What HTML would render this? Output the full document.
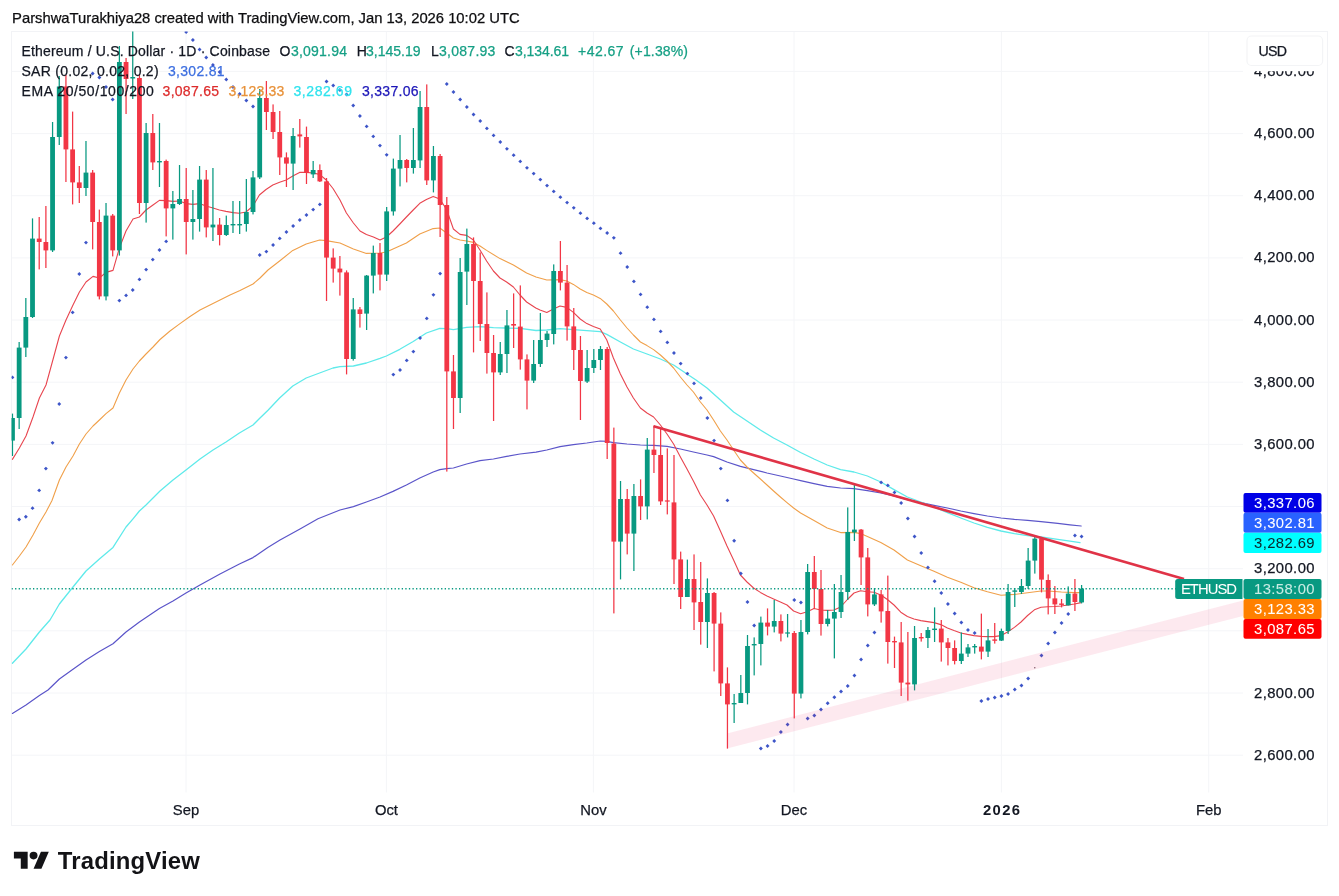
<!DOCTYPE html><html><head><meta charset="utf-8"><title>ETHUSD chart</title>
<style>html,body{margin:0;padding:0;background:#fff;}body{width:1339px;height:896px;overflow:hidden;position:relative;font-family:"Liberation Sans",sans-serif;}svg{position:absolute;left:0;top:0;display:block}text{font-family:"Liberation Sans",sans-serif;}</style></head><body>
<svg width="1339" height="896" viewBox="0 0 1339 896">
<rect width="1339" height="896" fill="#fff"/>
<clipPath id="pane"><rect x="11.5" y="31.5" width="1231.5" height="761.0"/></clipPath>
<g stroke="#f4f5f8" stroke-width="1" fill="none">
<line x1="11.5" y1="71.4" x2="1243" y2="71.4"/>
<line x1="11.5" y1="133.6" x2="1243" y2="133.6"/>
<line x1="11.5" y1="195.7" x2="1243" y2="195.7"/>
<line x1="11.5" y1="257.9" x2="1243" y2="257.9"/>
<line x1="11.5" y1="320.0" x2="1243" y2="320.0"/>
<line x1="11.5" y1="382.2" x2="1243" y2="382.2"/>
<line x1="11.5" y1="444.4" x2="1243" y2="444.4"/>
<line x1="11.5" y1="506.5" x2="1243" y2="506.5"/>
<line x1="11.5" y1="568.7" x2="1243" y2="568.7"/>
<line x1="11.5" y1="630.8" x2="1243" y2="630.8"/>
<line x1="11.5" y1="693.0" x2="1243" y2="693.0"/>
<line x1="11.5" y1="755.2" x2="1243" y2="755.2"/>
<line x1="186" y1="31.5" x2="186" y2="792.5"/>
<line x1="386.4" y1="31.5" x2="386.4" y2="792.5"/>
<line x1="593.4" y1="31.5" x2="593.4" y2="792.5"/>
<line x1="794" y1="31.5" x2="794" y2="792.5"/>
<line x1="1001.4" y1="31.5" x2="1001.4" y2="792.5"/>
<line x1="1208.7" y1="31.5" x2="1208.7" y2="792.5"/>
</g>
<rect x="11.5" y="31.5" width="1316.0" height="794.0" fill="none" stroke="#f2f3f6" stroke-width="1"/>
<g clip-path="url(#pane)">
<polyline points="12.4,713.4 26.0,705.0 39.4,695.6 48.0,690.0 59.4,679.0 73.0,669.2 86.0,660.0 99.4,651.6 113.0,643.8 126.0,632.0 139.4,622.0 159.4,608.6 173.0,601.0 186.0,593.0 200.0,585.0 220.0,574.0 239.4,564.0 253.0,557.6 267.8,547.4 280.0,540.0 300.0,529.0 318.0,518.8 340.0,510.0 353.4,506.6 366.4,502.0 380.0,497.0 393.0,491.4 406.4,485.0 419.8,478.0 433.2,472.0 439.8,469.6 446.6,468.6 453.4,468.0 466.6,464.0 480.0,460.6 493.4,459.0 506.6,456.4 520.0,454.0 536.0,452.2 546.8,450.0 560.0,446.6 573.4,444.6 586.8,443.0 600.2,441.0 606.8,441.4 613.4,442.6 627.0,444.0 640.4,445.0 653.6,445.4 667.0,446.4 680.4,449.0 693.4,452.0 707.0,455.0 713.6,456.6 727.0,462.0 740.4,466.4 753.6,469.6 767.0,473.0 780.4,476.0 793.6,479.0 800.6,480.6 814.0,483.6 827.2,486.4 840.6,488.0 854.0,488.6 867.4,490.6 880.8,493.0 894.0,496.0 907.4,499.6 920.8,502.6 934.0,505.4 947.4,508.0 960.8,511.0 974.0,513.6 987.4,516.0 1001.0,518.0 1014.4,519.4 1027.6,520.4 1041.0,521.6 1057.8,523.4 1070.0,524.8 1081.2,526.0" fill="none" stroke="#5b55c9" stroke-width="1.2" stroke-linejoin="round" stroke-linecap="round" opacity="1"/>
<polyline points="12.4,663.2 26.0,649.0 39.4,632.0 50.0,620.0 59.4,604.0 73.0,587.0 86.0,571.0 99.4,559.0 113.0,547.4 126.0,527.0 133.0,518.8 139.4,511.0 146.0,505.0 153.0,498.0 160.0,491.0 173.0,480.0 186.0,470.0 200.0,459.0 213.0,450.0 226.0,442.0 239.4,433.0 253.0,425.0 260.0,418.0 268.0,410.2 279.6,398.0 292.8,386.0 306.2,378.0 319.6,373.0 333.0,368.0 340.0,366.6 353.4,366.0 366.4,363.0 380.0,358.4 386.4,356.0 399.8,349.3 413.2,341.5 426.4,333.0 439.8,328.4 446.6,328.6 453.4,329.6 466.6,327.4 480.0,326.6 493.4,327.6 506.6,328.0 520.0,328.4 536.0,330.5 546.8,330.0 560.0,328.6 573.4,329.6 586.8,330.6 600.2,331.6 606.8,334.4 620.4,342.0 633.4,349.0 647.0,354.0 660.4,359.0 673.6,365.0 687.0,374.0 696.0,380.0 707.0,388.0 720.4,400.0 733.6,412.0 747.0,421.0 760.4,430.0 773.6,438.0 787.0,445.0 800.6,452.5 814.0,459.0 827.2,465.0 840.6,469.6 854.0,472.0 867.4,476.0 880.8,482.0 894.0,489.6 907.4,497.0 920.8,502.0 934.0,507.0 947.4,512.6 960.8,518.0 974.0,523.0 987.4,527.4 1001.0,531.0 1014.4,533.6 1027.6,535.6 1041.0,537.0 1057.8,539.4 1070.0,541.2 1080.0,542.6" fill="none" stroke="#5feaea" stroke-width="1.3" stroke-linejoin="round" stroke-linecap="round" opacity="1"/>
<polyline points="12.4,565.0 19.4,556.0 26.0,547.0 33.0,535.0 39.4,523.0 46.0,512.0 52.0,500.5 59.4,480.0 66.0,467.0 73.0,456.0 79.4,444.0 86.0,434.0 93.0,426.0 99.4,420.0 106.0,413.6 113.0,408.0 119.4,393.0 126.0,380.0 133.0,369.0 139.4,361.0 146.0,354.0 153.0,347.0 160.0,339.5 170.0,331.0 180.0,323.6 190.0,316.5 200.0,310.0 210.0,305.0 220.0,300.0 230.0,295.0 240.0,290.6 253.0,284.0 260.0,278.0 268.0,270.0 279.6,261.0 292.8,250.4 306.2,244.0 319.6,240.0 326.2,240.6 340.0,243.0 353.4,249.0 366.4,253.4 380.0,253.0 386.4,252.0 393.0,249.0 406.4,243.0 419.8,234.0 433.2,228.6 439.8,228.0 446.6,233.0 453.4,238.0 460.0,240.0 466.6,241.0 473.4,242.4 480.0,246.0 486.6,250.4 500.0,258.6 513.4,265.0 526.6,273.0 536.0,277.0 546.8,280.0 560.0,279.6 566.8,281.0 573.4,284.4 580.2,289.0 586.8,292.4 593.4,295.0 600.2,298.4 606.8,304.0 613.4,311.0 620.4,320.0 627.0,328.0 633.4,335.0 640.4,342.0 647.0,345.6 653.6,349.6 660.4,355.0 667.0,361.0 673.6,368.0 680.4,377.0 687.0,385.0 693.4,392.0 700.4,402.0 707.0,410.0 713.6,420.0 720.4,431.0 727.0,440.0 733.6,450.0 740.4,460.0 747.0,467.0 753.6,473.0 760.4,479.0 767.0,485.0 773.6,491.0 780.4,497.0 787.0,502.6 793.6,508.0 800.6,513.0 814.0,520.6 827.2,528.0 840.6,532.6 854.0,532.4 860.6,533.6 867.4,536.6 880.8,542.4 894.0,550.0 907.4,560.0 920.8,565.8 934.0,571.3 947.4,577.3 960.8,582.3 974.0,587.7 987.4,591.8 1001.0,595.2 1014.4,594.4 1027.6,592.8 1041.0,591.0 1047.8,591.0 1061.4,592.0 1074.4,592.6 1081.0,592.6" fill="none" stroke="#f0a04a" stroke-width="1.1" stroke-linejoin="round" stroke-linecap="round" opacity="1"/>
<polyline points="12.4,459.4 19.4,448.0 26.0,436.0 33.0,417.0 39.4,398.0 46.0,385.0 53.0,359.5 59.4,336.0 66.0,320.0 73.0,305.0 79.4,292.0 86.0,282.0 93.0,276.4 99.4,278.0 106.0,272.4 113.0,270.4 119.4,248.0 126.0,231.0 133.0,219.0 139.4,217.0 146.0,210.0 153.0,205.0 159.4,200.4 166.0,200.6 173.0,201.4 179.4,201.0 186.0,203.6 193.0,204.4 199.4,203.6 206.0,206.0 213.0,208.0 219.4,210.0 226.0,211.4 233.0,212.6 239.4,213.2 246.0,212.0 253.0,206.0 259.4,195.0 266.0,189.5 272.8,185.0 279.6,182.2 286.2,180.0 292.8,176.0 299.6,172.4 306.2,172.4 313.0,173.0 319.6,174.4 326.2,180.0 333.0,188.5 340.0,200.0 346.4,213.0 353.4,223.0 360.0,231.0 366.4,234.6 373.4,237.0 380.0,240.0 386.4,237.0 393.0,231.0 399.8,224.0 406.4,217.0 413.2,210.0 419.8,203.3 426.4,199.5 433.2,196.4 439.8,199.0 446.6,209.5 453.4,229.0 460.0,234.4 466.6,235.4 473.4,240.0 480.0,250.0 486.6,261.0 493.4,271.0 500.0,278.0 506.6,282.0 513.4,287.0 520.0,295.0 526.6,302.0 535.8,308.0 540.0,310.0 546.8,312.4 553.4,309.0 560.0,306.0 566.8,307.4 573.4,312.4 580.2,319.0 586.8,323.6 593.4,326.4 600.2,329.0 606.8,340.0 613.4,358.0 620.4,374.0 627.0,387.0 633.4,398.0 640.4,408.0 647.0,413.0 653.6,417.0 660.4,425.0 667.0,434.0 673.6,444.0 680.4,457.0 687.0,469.0 693.4,481.0 700.4,495.0 707.0,505.0 713.6,516.0 720.4,531.0 727.0,546.0 733.6,560.0 740.4,575.0 747.0,582.0 753.6,588.0 760.4,592.4 767.0,596.0 773.6,599.0 780.4,602.0 787.0,605.0 793.6,611.0 800.6,613.8 807.2,611.8 814.0,608.5 820.6,610.0 827.2,610.4 834.0,610.0 840.6,607.0 847.4,599.5 854.0,593.0 860.6,590.8 867.4,591.8 874.0,592.2 880.8,595.0 887.4,599.5 894.0,605.0 900.8,612.2 907.4,616.5 914.0,619.0 920.8,620.6 927.4,621.6 934.0,622.6 940.8,624.6 947.4,628.0 954.0,630.6 960.8,633.0 967.4,634.4 974.0,635.6 981.0,636.4 987.6,636.6 994.0,636.6 1001.0,635.6 1007.6,632.0 1014.4,627.4 1021.0,622.0 1027.6,615.5 1034.4,609.8 1041.0,607.3 1047.8,606.7 1054.4,606.5 1061.4,606.0 1067.8,605.0 1074.4,604.0 1081.2,602.6" fill="none" stroke="#e8454f" stroke-width="1.1" stroke-linejoin="round" stroke-linecap="round" opacity="1"/>
<g fill="#3d55c8">
<path d="M10.5 377.4L12.5 375.4L14.4 377.4L12.5 379.3z"/>
<path d="M17.2 519.5L19.1 517.5L21.1 519.5L19.1 521.5z"/>
<path d="M23.9 516.8L25.8 514.8L27.8 516.8L25.8 518.8z"/>
<path d="M30.6 508.2L32.5 506.2L34.5 508.2L32.5 510.1z"/>
<path d="M37.2 490.4L39.2 488.4L41.1 490.4L39.2 492.3z"/>
<path d="M43.9 468.6L45.9 466.7L47.8 468.6L45.9 470.6z"/>
<path d="M50.6 442.8L52.6 440.9L54.5 442.8L52.6 444.8z"/>
<path d="M57.3 404.0L59.2 402.1L61.2 404.0L59.2 405.9z"/>
<path d="M64.0 357.6L65.9 355.7L67.9 357.6L65.9 359.6z"/>
<path d="M70.7 312.4L72.6 310.4L74.6 312.4L72.6 314.3z"/>
<path d="M77.3 274.0L79.3 272.1L81.2 274.0L79.3 275.9z"/>
<path d="M84.0 242.6L86.0 240.7L87.9 242.6L86.0 244.5z"/>
<path d="M90.7 73.6L92.7 71.6L94.6 73.6L92.7 75.5z"/>
<path d="M97.4 77.6L99.3 75.6L101.3 77.6L99.3 79.5z"/>
<path d="M104.1 87.0L106.0 85.0L108.0 87.0L106.0 89.0z"/>
<path d="M110.7 99.4L112.7 97.5L114.6 99.4L112.7 101.4z"/>
<path d="M117.4 300.6L119.4 298.7L121.3 300.6L119.4 302.6z"/>
<path d="M124.1 295.4L126.1 293.4L128.0 295.4L126.1 297.3z"/>
<path d="M130.8 290.0L132.7 288.1L134.7 290.0L132.7 291.9z"/>
<path d="M137.5 279.4L139.4 277.4L141.4 279.4L139.4 281.3z"/>
<path d="M144.2 269.6L146.1 267.7L148.1 269.6L146.1 271.6z"/>
<path d="M150.8 259.6L152.8 257.7L154.7 259.6L152.8 261.6z"/>
<path d="M157.5 250.0L159.5 248.1L161.4 250.0L159.5 251.9z"/>
<path d="M164.2 241.4L166.2 239.5L168.1 241.4L166.2 243.3z"/>
<path d="M184.2 32.0L186.2 30.1L188.1 32.0L186.2 34.0z"/>
<path d="M190.9 40.0L192.9 38.0L194.8 40.0L192.9 42.0z"/>
<path d="M197.6 49.4L199.6 47.4L201.5 49.4L199.6 51.4z"/>
<path d="M204.3 57.4L206.2 55.4L208.2 57.4L206.2 59.4z"/>
<path d="M211.0 65.0L212.9 63.0L214.9 65.0L212.9 67.0z"/>
<path d="M217.7 72.0L219.6 70.0L221.6 72.0L219.6 74.0z"/>
<path d="M224.3 79.6L226.3 77.6L228.2 79.6L226.3 81.5z"/>
<path d="M231.0 87.0L233.0 85.0L234.9 87.0L233.0 89.0z"/>
<path d="M237.7 94.0L239.7 92.0L241.6 94.0L239.7 96.0z"/>
<path d="M244.4 100.4L246.3 98.5L248.3 100.4L246.3 102.4z"/>
<path d="M251.1 106.4L253.0 104.5L255.0 106.4L253.0 108.4z"/>
<path d="M257.8 255.0L259.7 253.1L261.7 255.0L259.7 256.9z"/>
<path d="M264.4 251.6L266.4 249.7L268.3 251.6L266.4 253.5z"/>
<path d="M271.1 245.0L273.1 243.1L275.0 245.0L273.1 246.9z"/>
<path d="M277.8 238.4L279.7 236.5L281.7 238.4L279.7 240.3z"/>
<path d="M284.5 232.0L286.4 230.1L288.4 232.0L286.4 233.9z"/>
<path d="M291.2 226.0L293.1 224.1L295.1 226.0L293.1 227.9z"/>
<path d="M297.8 220.0L299.8 218.1L301.7 220.0L299.8 221.9z"/>
<path d="M304.5 215.0L306.5 213.1L308.4 215.0L306.5 216.9z"/>
<path d="M311.2 209.6L313.2 207.7L315.1 209.6L313.2 211.5z"/>
<path d="M317.9 204.4L319.8 202.5L321.8 204.4L319.8 206.3z"/>
<path d="M324.6 81.4L326.5 79.5L328.5 81.4L326.5 83.4z"/>
<path d="M331.3 85.6L333.2 83.6L335.2 85.6L333.2 87.5z"/>
<path d="M337.9 90.0L339.9 88.0L341.8 90.0L339.9 92.0z"/>
<path d="M344.6 94.4L346.6 92.5L348.5 94.4L346.6 96.4z"/>
<path d="M351.3 105.4L353.2 103.5L355.2 105.4L353.2 107.4z"/>
<path d="M358.0 116.0L359.9 114.0L361.9 116.0L359.9 118.0z"/>
<path d="M364.7 126.4L366.6 124.5L368.6 126.4L366.6 128.3z"/>
<path d="M371.3 136.4L373.3 134.5L375.2 136.4L373.3 138.3z"/>
<path d="M378.0 145.6L380.0 143.7L381.9 145.6L380.0 147.5z"/>
<path d="M384.7 154.8L386.7 152.9L388.6 154.8L386.7 156.8z"/>
<path d="M391.4 374.6L393.3 372.7L395.3 374.6L393.3 376.6z"/>
<path d="M398.1 370.0L400.0 368.1L402.0 370.0L400.0 371.9z"/>
<path d="M404.8 360.4L406.7 358.4L408.7 360.4L406.7 362.3z"/>
<path d="M411.4 351.6L413.4 349.7L415.3 351.6L413.4 353.6z"/>
<path d="M418.1 338.0L420.1 336.1L422.0 338.0L420.1 339.9z"/>
<path d="M424.8 318.4L426.8 316.4L428.7 318.4L426.8 320.3z"/>
<path d="M431.5 294.8L433.4 292.9L435.4 294.8L433.4 296.8z"/>
<path d="M438.2 273.6L440.1 271.7L442.1 273.6L440.1 275.6z"/>
<path d="M444.8 84.0L446.8 82.0L448.7 84.0L446.8 86.0z"/>
<path d="M451.5 92.0L453.5 90.0L455.4 92.0L453.5 94.0z"/>
<path d="M458.2 99.4L460.2 97.5L462.1 99.4L460.2 101.4z"/>
<path d="M464.9 107.0L466.8 105.0L468.8 107.0L466.8 109.0z"/>
<path d="M471.6 114.4L473.5 112.5L475.5 114.4L473.5 116.4z"/>
<path d="M478.3 121.0L480.2 119.0L482.2 121.0L480.2 123.0z"/>
<path d="M484.9 128.4L486.9 126.5L488.8 128.4L486.9 130.3z"/>
<path d="M491.6 135.4L493.6 133.5L495.5 135.4L493.6 137.3z"/>
<path d="M498.3 142.0L500.3 140.1L502.2 142.0L500.3 143.9z"/>
<path d="M505.0 148.8L506.9 146.9L508.9 148.8L506.9 150.8z"/>
<path d="M511.7 155.2L513.6 153.2L515.6 155.2L513.6 157.1z"/>
<path d="M518.3 161.4L520.3 159.5L522.2 161.4L520.3 163.3z"/>
<path d="M525.0 167.8L527.0 165.9L528.9 167.8L527.0 169.8z"/>
<path d="M531.7 173.6L533.7 171.7L535.6 173.6L533.7 175.5z"/>
<path d="M538.4 179.6L540.3 177.7L542.3 179.6L540.3 181.5z"/>
<path d="M545.1 185.6L547.0 183.7L549.0 185.6L547.0 187.5z"/>
<path d="M551.8 191.4L553.7 189.5L555.7 191.4L553.7 193.3z"/>
<path d="M558.4 197.2L560.4 195.2L562.3 197.2L560.4 199.1z"/>
<path d="M565.1 202.6L567.1 200.7L569.0 202.6L567.1 204.5z"/>
<path d="M571.8 207.8L573.8 205.9L575.7 207.8L573.8 209.8z"/>
<path d="M578.5 213.2L580.4 211.2L582.4 213.2L580.4 215.1z"/>
<path d="M585.2 218.4L587.1 216.5L589.1 218.4L587.1 220.3z"/>
<path d="M591.9 223.2L593.8 221.2L595.8 223.2L593.8 225.1z"/>
<path d="M598.5 228.4L600.5 226.5L602.4 228.4L600.5 230.3z"/>
<path d="M605.2 233.0L607.2 231.1L609.1 233.0L607.2 234.9z"/>
<path d="M611.9 237.8L613.8 235.9L615.8 237.8L613.8 239.8z"/>
<path d="M618.6 253.2L620.5 251.2L622.5 253.2L620.5 255.1z"/>
<path d="M625.3 267.0L627.2 265.1L629.2 267.0L627.2 268.9z"/>
<path d="M631.9 281.4L633.9 279.4L635.8 281.4L633.9 283.3z"/>
<path d="M638.6 294.4L640.6 292.4L642.5 294.4L640.6 296.3z"/>
<path d="M645.3 307.2L647.3 305.2L649.2 307.2L647.3 309.1z"/>
<path d="M652.0 319.4L653.9 317.4L655.9 319.4L653.9 321.3z"/>
<path d="M658.7 331.4L660.6 329.4L662.6 331.4L660.6 333.3z"/>
<path d="M665.4 342.4L667.3 340.4L669.3 342.4L667.3 344.3z"/>
<path d="M672.0 353.0L674.0 351.1L675.9 353.0L674.0 354.9z"/>
<path d="M678.7 363.6L680.7 361.7L682.6 363.6L680.7 365.6z"/>
<path d="M685.4 373.6L687.4 371.7L689.3 373.6L687.4 375.6z"/>
<path d="M692.1 383.4L694.0 381.4L696.0 383.4L694.0 385.3z"/>
<path d="M698.8 398.0L700.7 396.1L702.7 398.0L700.7 399.9z"/>
<path d="M705.4 418.0L707.4 416.1L709.3 418.0L707.4 419.9z"/>
<path d="M712.1 440.6L714.1 438.7L716.0 440.6L714.1 442.6z"/>
<path d="M718.8 468.6L720.8 466.7L722.7 468.6L720.8 470.6z"/>
<path d="M725.5 500.4L727.4 498.4L729.4 500.4L727.4 502.3z"/>
<path d="M732.2 540.8L734.1 538.8L736.1 540.8L734.1 542.8z"/>
<path d="M738.9 573.6L740.8 571.6L742.8 573.6L740.8 575.6z"/>
<path d="M745.5 602.0L747.5 600.0L749.4 602.0L747.5 604.0z"/>
<path d="M752.2 625.4L754.2 623.4L756.1 625.4L754.2 627.4z"/>
<path d="M758.9 748.6L760.9 746.6L762.8 748.6L760.9 750.6z"/>
<path d="M765.6 746.0L767.5 744.0L769.5 746.0L767.5 748.0z"/>
<path d="M772.3 741.0L774.2 739.0L776.2 741.0L774.2 743.0z"/>
<path d="M778.9 732.0L780.9 730.0L782.8 732.0L780.9 734.0z"/>
<path d="M785.6 724.6L787.6 722.6L789.5 724.6L787.6 726.6z"/>
<path d="M792.3 600.0L794.3 598.0L796.2 600.0L794.3 602.0z"/>
<path d="M799.0 602.4L800.9 600.4L802.9 602.4L800.9 604.4z"/>
<path d="M805.7 718.4L807.6 716.4L809.6 718.4L807.6 720.4z"/>
<path d="M812.4 715.4L814.3 713.4L816.3 715.4L814.3 717.4z"/>
<path d="M819.0 709.6L821.0 707.6L822.9 709.6L821.0 711.6z"/>
<path d="M825.7 703.2L827.7 701.2L829.6 703.2L827.7 705.2z"/>
<path d="M832.4 697.2L834.4 695.2L836.3 697.2L834.4 699.2z"/>
<path d="M839.1 691.4L841.0 689.4L843.0 691.4L841.0 693.4z"/>
<path d="M845.8 686.0L847.7 684.0L849.7 686.0L847.7 688.0z"/>
<path d="M852.5 675.4L854.4 673.4L856.4 675.4L854.4 677.4z"/>
<path d="M859.1 659.4L861.1 657.4L863.0 659.4L861.1 661.4z"/>
<path d="M865.8 645.6L867.8 643.6L869.7 645.6L867.8 647.6z"/>
<path d="M872.5 632.4L874.4 630.4L876.4 632.4L874.4 634.4z"/>
<path d="M879.2 482.4L881.1 480.4L883.1 482.4L881.1 484.3z"/>
<path d="M885.9 485.4L887.8 483.4L889.8 485.4L887.8 487.3z"/>
<path d="M892.5 492.4L894.5 490.4L896.4 492.4L894.5 494.3z"/>
<path d="M899.2 503.0L901.2 501.1L903.1 503.0L901.2 504.9z"/>
<path d="M905.9 518.4L907.9 516.4L909.8 518.4L907.9 520.4z"/>
<path d="M912.6 536.6L914.5 534.6L916.5 536.6L914.5 538.6z"/>
<path d="M919.3 553.0L921.2 551.0L923.2 553.0L921.2 555.0z"/>
<path d="M926.0 567.6L927.9 565.6L929.9 567.6L927.9 569.6z"/>
<path d="M932.6 581.2L934.6 579.2L936.5 581.2L934.6 583.2z"/>
<path d="M939.3 593.0L941.3 591.0L943.2 593.0L941.3 595.0z"/>
<path d="M946.0 604.0L947.9 602.0L949.9 604.0L947.9 606.0z"/>
<path d="M952.7 613.5L954.6 611.5L956.6 613.5L954.6 615.5z"/>
<path d="M959.4 622.6L961.3 620.6L963.3 622.6L961.3 624.6z"/>
<path d="M966.0 630.0L968.0 628.0L969.9 630.0L968.0 632.0z"/>
<path d="M972.7 633.0L974.7 631.0L976.6 633.0L974.7 635.0z"/>
<path d="M979.4 701.0L981.4 699.0L983.3 701.0L981.4 703.0z"/>
<path d="M986.1 699.0L988.0 697.0L990.0 699.0L988.0 701.0z"/>
<path d="M992.8 697.6L994.7 695.6L996.7 697.6L994.7 699.6z"/>
<path d="M999.5 696.0L1001.4 694.0L1003.4 696.0L1001.4 698.0z"/>
<path d="M1006.1 694.0L1008.1 692.0L1010.0 694.0L1008.1 696.0z"/>
<path d="M1012.8 689.6L1014.8 687.6L1016.7 689.6L1014.8 691.6z"/>
<path d="M1019.5 685.4L1021.5 683.4L1023.4 685.4L1021.5 687.4z"/>
<path d="M1026.2 678.6L1028.1 676.6L1030.1 678.6L1028.1 680.6z"/>
<circle cx="1034.8" cy="667.8" r="0.7" fill="#6b5560"/>
<path d="M1039.5 655.5L1041.5 653.5L1043.4 655.5L1041.5 657.5z"/>
<path d="M1046.2 643.6L1048.2 641.6L1050.1 643.6L1048.2 645.6z"/>
<path d="M1052.9 632.4L1054.9 630.4L1056.8 632.4L1054.9 634.4z"/>
<path d="M1059.6 623.0L1061.5 621.0L1063.5 623.0L1061.5 625.0z"/>
<path d="M1066.3 614.0L1068.2 612.0L1070.2 614.0L1068.2 616.0z"/>
<path d="M1073.0 535.6L1074.9 533.6L1076.9 535.6L1074.9 537.6z"/>
<path d="M1079.6 536.4L1081.6 534.4L1083.5 536.4L1081.6 538.4z"/>
</g>
<rect x="11.85" y="413.6" width="1.25" height="42.4" fill="#089981"/>
<rect x="10.07" y="418.0" width="4.8" height="22.6" fill="#089981"/>
<rect x="18.53" y="342.0" width="1.25" height="87.0" fill="#089981"/>
<rect x="16.75" y="347.6" width="4.8" height="70.4" fill="#089981"/>
<rect x="25.21" y="298.0" width="1.25" height="59.0" fill="#089981"/>
<rect x="23.43" y="317.0" width="4.8" height="30.6" fill="#089981"/>
<rect x="31.89" y="218.4" width="1.25" height="99.6" fill="#089981"/>
<rect x="30.11" y="238.6" width="4.8" height="78.4" fill="#089981"/>
<rect x="38.58" y="217.0" width="1.25" height="52.4" fill="#f23645"/>
<rect x="36.80" y="238.6" width="4.8" height="3.4" fill="#f23645"/>
<rect x="45.26" y="206.0" width="1.25" height="62.0" fill="#f23645"/>
<rect x="43.48" y="242.0" width="4.8" height="8.4" fill="#f23645"/>
<rect x="51.94" y="122.0" width="1.25" height="130.0" fill="#089981"/>
<rect x="50.16" y="137.0" width="4.8" height="113.4" fill="#089981"/>
<rect x="58.62" y="76.0" width="1.25" height="69.0" fill="#089981"/>
<rect x="56.84" y="86.5" width="4.8" height="50.5" fill="#089981"/>
<rect x="65.30" y="75.0" width="1.25" height="107.0" fill="#f23645"/>
<rect x="63.52" y="86.5" width="4.8" height="62.9" fill="#f23645"/>
<rect x="71.99" y="111.6" width="1.25" height="92.8" fill="#f23645"/>
<rect x="70.21" y="149.4" width="4.8" height="33.0" fill="#f23645"/>
<rect x="78.67" y="166.0" width="1.25" height="37.0" fill="#f23645"/>
<rect x="76.89" y="182.4" width="4.8" height="5.6" fill="#f23645"/>
<rect x="85.35" y="141.0" width="1.25" height="55.0" fill="#089981"/>
<rect x="83.57" y="172.6" width="4.8" height="15.4" fill="#089981"/>
<rect x="92.03" y="170.0" width="1.25" height="79.4" fill="#f23645"/>
<rect x="90.25" y="172.6" width="4.8" height="49.4" fill="#f23645"/>
<rect x="98.71" y="209.6" width="1.25" height="89.8" fill="#f23645"/>
<rect x="96.93" y="222.0" width="4.8" height="74.4" fill="#f23645"/>
<rect x="105.40" y="203.0" width="1.25" height="97.4" fill="#089981"/>
<rect x="103.62" y="215.6" width="4.8" height="80.8" fill="#089981"/>
<rect x="112.08" y="214.0" width="1.25" height="42.4" fill="#f23645"/>
<rect x="110.30" y="215.6" width="4.8" height="34.8" fill="#f23645"/>
<rect x="118.76" y="46.0" width="1.25" height="209.6" fill="#089981"/>
<rect x="116.98" y="62.0" width="4.8" height="188.4" fill="#089981"/>
<rect x="125.44" y="58.0" width="1.25" height="56.0" fill="#f23645"/>
<rect x="123.66" y="62.0" width="4.8" height="17.0" fill="#f23645"/>
<rect x="132.12" y="20.0" width="1.25" height="79.0" fill="#089981"/>
<rect x="130.34" y="77.0" width="4.8" height="1.5" fill="#089981"/>
<rect x="138.81" y="75.0" width="1.25" height="139.0" fill="#f23645"/>
<rect x="137.03" y="78.0" width="4.8" height="125.0" fill="#f23645"/>
<rect x="145.49" y="123.0" width="1.25" height="99.6" fill="#089981"/>
<rect x="143.71" y="133.0" width="4.8" height="70.0" fill="#089981"/>
<rect x="152.17" y="114.0" width="1.25" height="56.0" fill="#f23645"/>
<rect x="150.39" y="133.0" width="4.8" height="29.4" fill="#f23645"/>
<rect x="158.85" y="123.0" width="1.25" height="64.0" fill="#089981"/>
<rect x="157.07" y="161.0" width="4.8" height="1.4" fill="#089981"/>
<rect x="165.53" y="159.6" width="1.25" height="76.8" fill="#f23645"/>
<rect x="163.75" y="161.0" width="4.8" height="47.4" fill="#f23645"/>
<rect x="172.22" y="191.0" width="1.25" height="48.6" fill="#089981"/>
<rect x="170.44" y="204.0" width="4.8" height="4.4" fill="#089981"/>
<rect x="178.90" y="165.0" width="1.25" height="40.0" fill="#089981"/>
<rect x="177.12" y="199.0" width="4.8" height="5.0" fill="#089981"/>
<rect x="185.58" y="168.0" width="1.25" height="86.4" fill="#f23645"/>
<rect x="183.80" y="199.0" width="4.8" height="23.0" fill="#f23645"/>
<rect x="192.26" y="190.0" width="1.25" height="49.6" fill="#089981"/>
<rect x="190.48" y="219.0" width="4.8" height="3.0" fill="#089981"/>
<rect x="198.94" y="166.0" width="1.25" height="65.6" fill="#089981"/>
<rect x="197.16" y="179.6" width="4.8" height="39.4" fill="#089981"/>
<rect x="205.63" y="170.0" width="1.25" height="67.4" fill="#f23645"/>
<rect x="203.85" y="179.6" width="4.8" height="47.8" fill="#f23645"/>
<rect x="212.31" y="168.0" width="1.25" height="73.0" fill="#089981"/>
<rect x="210.53" y="224.6" width="4.8" height="2.8" fill="#089981"/>
<rect x="218.99" y="218.0" width="1.25" height="27.4" fill="#f23645"/>
<rect x="217.21" y="224.6" width="4.8" height="10.4" fill="#f23645"/>
<rect x="225.67" y="215.6" width="1.25" height="20.4" fill="#089981"/>
<rect x="223.89" y="225.0" width="4.8" height="10.0" fill="#089981"/>
<rect x="232.35" y="201.0" width="1.25" height="32.0" fill="#089981"/>
<rect x="230.57" y="224.0" width="4.8" height="1.4" fill="#089981"/>
<rect x="239.04" y="201.0" width="1.25" height="33.0" fill="#089981"/>
<rect x="237.26" y="224.0" width="4.8" height="1.4" fill="#089981"/>
<rect x="245.72" y="179.0" width="1.25" height="52.6" fill="#089981"/>
<rect x="243.94" y="212.0" width="4.8" height="12.0" fill="#089981"/>
<rect x="252.40" y="171.0" width="1.25" height="43.4" fill="#089981"/>
<rect x="250.62" y="177.4" width="4.8" height="34.6" fill="#089981"/>
<rect x="259.08" y="89.0" width="1.25" height="90.0" fill="#089981"/>
<rect x="257.30" y="98.0" width="4.8" height="79.4" fill="#089981"/>
<rect x="265.76" y="81.0" width="1.25" height="49.0" fill="#f23645"/>
<rect x="263.98" y="98.0" width="4.8" height="14.0" fill="#f23645"/>
<rect x="272.45" y="104.4" width="1.25" height="34.6" fill="#f23645"/>
<rect x="270.67" y="112.0" width="4.8" height="20.0" fill="#f23645"/>
<rect x="279.13" y="111.0" width="1.25" height="64.0" fill="#f23645"/>
<rect x="277.35" y="132.0" width="4.8" height="25.4" fill="#f23645"/>
<rect x="285.81" y="152.4" width="1.25" height="34.6" fill="#f23645"/>
<rect x="284.03" y="157.4" width="4.8" height="6.2" fill="#f23645"/>
<rect x="292.49" y="128.0" width="1.25" height="62.0" fill="#089981"/>
<rect x="290.71" y="136.0" width="4.8" height="27.6" fill="#089981"/>
<rect x="299.17" y="119.0" width="1.25" height="28.6" fill="#f23645"/>
<rect x="297.39" y="134.4" width="4.8" height="2.0" fill="#f23645"/>
<rect x="305.86" y="126.6" width="1.25" height="57.4" fill="#f23645"/>
<rect x="304.08" y="137.0" width="4.8" height="36.0" fill="#f23645"/>
<rect x="312.54" y="161.0" width="1.25" height="17.0" fill="#089981"/>
<rect x="310.76" y="170.0" width="4.8" height="4.4" fill="#089981"/>
<rect x="319.22" y="164.4" width="1.25" height="17.6" fill="#f23645"/>
<rect x="317.44" y="170.0" width="4.8" height="11.4" fill="#f23645"/>
<rect x="325.90" y="178.0" width="1.25" height="123.0" fill="#f23645"/>
<rect x="324.12" y="181.4" width="4.8" height="76.2" fill="#f23645"/>
<rect x="332.58" y="248.4" width="1.25" height="34.2" fill="#f23645"/>
<rect x="330.80" y="257.6" width="4.8" height="11.0" fill="#f23645"/>
<rect x="339.27" y="256.0" width="1.25" height="39.6" fill="#f23645"/>
<rect x="337.49" y="268.6" width="4.8" height="3.8" fill="#f23645"/>
<rect x="345.95" y="270.4" width="1.25" height="104.0" fill="#f23645"/>
<rect x="344.17" y="272.4" width="4.8" height="86.6" fill="#f23645"/>
<rect x="352.63" y="298.0" width="1.25" height="62.6" fill="#089981"/>
<rect x="350.85" y="309.4" width="4.8" height="49.6" fill="#089981"/>
<rect x="359.31" y="307.0" width="1.25" height="20.6" fill="#f23645"/>
<rect x="357.53" y="309.4" width="4.8" height="4.6" fill="#f23645"/>
<rect x="365.99" y="275.0" width="1.25" height="55.0" fill="#089981"/>
<rect x="364.21" y="275.6" width="4.8" height="38.0" fill="#089981"/>
<rect x="372.68" y="245.6" width="1.25" height="47.8" fill="#089981"/>
<rect x="370.90" y="253.0" width="4.8" height="22.6" fill="#089981"/>
<rect x="379.36" y="243.0" width="1.25" height="47.4" fill="#f23645"/>
<rect x="377.58" y="253.0" width="4.8" height="21.6" fill="#f23645"/>
<rect x="386.04" y="207.0" width="1.25" height="74.0" fill="#089981"/>
<rect x="384.26" y="211.4" width="4.8" height="63.2" fill="#089981"/>
<rect x="392.72" y="158.6" width="1.25" height="57.0" fill="#089981"/>
<rect x="390.94" y="168.6" width="4.8" height="42.8" fill="#089981"/>
<rect x="399.40" y="135.0" width="1.25" height="51.4" fill="#089981"/>
<rect x="397.62" y="160.0" width="4.8" height="8.6" fill="#089981"/>
<rect x="406.09" y="159.0" width="1.25" height="23.4" fill="#f23645"/>
<rect x="404.31" y="160.0" width="4.8" height="8.0" fill="#f23645"/>
<rect x="412.77" y="128.0" width="1.25" height="45.6" fill="#089981"/>
<rect x="410.99" y="160.0" width="4.8" height="8.0" fill="#089981"/>
<rect x="419.45" y="91.0" width="1.25" height="77.0" fill="#089981"/>
<rect x="417.67" y="107.0" width="4.8" height="53.4" fill="#089981"/>
<rect x="426.13" y="84.4" width="1.25" height="100.6" fill="#f23645"/>
<rect x="424.35" y="107.0" width="4.8" height="73.4" fill="#f23645"/>
<rect x="432.81" y="146.0" width="1.25" height="46.4" fill="#089981"/>
<rect x="431.03" y="156.0" width="4.8" height="24.4" fill="#089981"/>
<rect x="439.50" y="154.0" width="1.25" height="83.0" fill="#f23645"/>
<rect x="437.72" y="156.0" width="4.8" height="49.0" fill="#f23645"/>
<rect x="446.18" y="197.0" width="1.25" height="274.6" fill="#f23645"/>
<rect x="444.40" y="205.0" width="4.8" height="166.4" fill="#f23645"/>
<rect x="452.86" y="355.0" width="1.25" height="74.0" fill="#f23645"/>
<rect x="451.08" y="371.4" width="4.8" height="26.6" fill="#f23645"/>
<rect x="459.54" y="258.0" width="1.25" height="155.0" fill="#089981"/>
<rect x="457.76" y="272.0" width="4.8" height="126.0" fill="#089981"/>
<rect x="466.22" y="228.6" width="1.25" height="76.4" fill="#089981"/>
<rect x="464.44" y="244.0" width="4.8" height="27.6" fill="#089981"/>
<rect x="472.91" y="237.4" width="1.25" height="115.0" fill="#f23645"/>
<rect x="471.13" y="244.0" width="4.8" height="37.0" fill="#f23645"/>
<rect x="479.59" y="252.4" width="1.25" height="88.6" fill="#f23645"/>
<rect x="477.81" y="281.0" width="4.8" height="43.0" fill="#f23645"/>
<rect x="486.27" y="292.4" width="1.25" height="81.2" fill="#f23645"/>
<rect x="484.49" y="324.0" width="4.8" height="29.0" fill="#f23645"/>
<rect x="492.95" y="335.0" width="1.25" height="86.0" fill="#f23645"/>
<rect x="491.17" y="353.0" width="4.8" height="19.4" fill="#f23645"/>
<rect x="499.63" y="342.0" width="1.25" height="33.0" fill="#089981"/>
<rect x="497.85" y="354.0" width="4.8" height="18.4" fill="#089981"/>
<rect x="506.32" y="310.0" width="1.25" height="63.0" fill="#089981"/>
<rect x="504.54" y="325.4" width="4.8" height="28.6" fill="#089981"/>
<rect x="513.00" y="293.4" width="1.25" height="54.6" fill="#f23645"/>
<rect x="511.22" y="324.0" width="4.8" height="1.6" fill="#f23645"/>
<rect x="519.68" y="285.4" width="1.25" height="84.2" fill="#f23645"/>
<rect x="517.90" y="326.6" width="4.8" height="32.8" fill="#f23645"/>
<rect x="526.36" y="354.4" width="1.25" height="55.0" fill="#f23645"/>
<rect x="524.58" y="359.4" width="4.8" height="21.2" fill="#f23645"/>
<rect x="533.04" y="340.0" width="1.25" height="43.0" fill="#089981"/>
<rect x="531.26" y="364.0" width="4.8" height="16.6" fill="#089981"/>
<rect x="539.73" y="313.0" width="1.25" height="54.0" fill="#089981"/>
<rect x="537.95" y="340.0" width="4.8" height="24.0" fill="#089981"/>
<rect x="546.41" y="331.0" width="1.25" height="16.0" fill="#089981"/>
<rect x="544.63" y="333.6" width="4.8" height="6.4" fill="#089981"/>
<rect x="553.09" y="264.4" width="1.25" height="80.0" fill="#089981"/>
<rect x="551.31" y="271.0" width="4.8" height="63.0" fill="#089981"/>
<rect x="559.77" y="241.0" width="1.25" height="49.4" fill="#f23645"/>
<rect x="557.99" y="271.0" width="4.8" height="11.6" fill="#f23645"/>
<rect x="566.45" y="265.0" width="1.25" height="75.6" fill="#f23645"/>
<rect x="564.67" y="282.6" width="4.8" height="43.8" fill="#f23645"/>
<rect x="573.14" y="308.0" width="1.25" height="62.0" fill="#f23645"/>
<rect x="571.36" y="326.4" width="4.8" height="23.6" fill="#f23645"/>
<rect x="579.82" y="336.0" width="1.25" height="84.0" fill="#f23645"/>
<rect x="578.04" y="350.0" width="4.8" height="31.0" fill="#f23645"/>
<rect x="586.50" y="350.0" width="1.25" height="33.0" fill="#089981"/>
<rect x="584.72" y="368.0" width="4.8" height="13.6" fill="#089981"/>
<rect x="593.18" y="349.0" width="1.25" height="24.0" fill="#089981"/>
<rect x="591.40" y="360.0" width="4.8" height="8.0" fill="#089981"/>
<rect x="599.86" y="346.0" width="1.25" height="24.0" fill="#089981"/>
<rect x="598.08" y="349.0" width="4.8" height="11.0" fill="#089981"/>
<rect x="606.55" y="347.0" width="1.25" height="112.0" fill="#f23645"/>
<rect x="604.77" y="349.0" width="4.8" height="94.0" fill="#f23645"/>
<rect x="613.23" y="427.6" width="1.25" height="185.8" fill="#f23645"/>
<rect x="611.45" y="443.6" width="4.8" height="98.0" fill="#f23645"/>
<rect x="619.91" y="481.0" width="1.25" height="98.4" fill="#089981"/>
<rect x="618.13" y="499.0" width="4.8" height="42.6" fill="#089981"/>
<rect x="626.59" y="489.0" width="1.25" height="65.4" fill="#f23645"/>
<rect x="624.81" y="499.0" width="4.8" height="34.6" fill="#f23645"/>
<rect x="633.27" y="484.0" width="1.25" height="87.0" fill="#089981"/>
<rect x="631.49" y="496.0" width="4.8" height="37.6" fill="#089981"/>
<rect x="639.96" y="479.4" width="1.25" height="40.6" fill="#f23645"/>
<rect x="638.18" y="496.0" width="4.8" height="10.4" fill="#f23645"/>
<rect x="646.64" y="438.0" width="1.25" height="81.4" fill="#089981"/>
<rect x="644.86" y="449.6" width="4.8" height="56.8" fill="#089981"/>
<rect x="653.32" y="425.6" width="1.25" height="47.4" fill="#f23645"/>
<rect x="651.54" y="449.6" width="4.8" height="5.4" fill="#f23645"/>
<rect x="660.00" y="428.0" width="1.25" height="77.0" fill="#f23645"/>
<rect x="658.22" y="455.0" width="4.8" height="46.4" fill="#f23645"/>
<rect x="666.68" y="448.4" width="1.25" height="66.0" fill="#f23645"/>
<rect x="664.90" y="500.4" width="4.8" height="1.2" fill="#f23645"/>
<rect x="673.37" y="455.0" width="1.25" height="129.0" fill="#f23645"/>
<rect x="671.59" y="502.4" width="4.8" height="57.0" fill="#f23645"/>
<rect x="680.05" y="551.6" width="1.25" height="57.4" fill="#f23645"/>
<rect x="678.27" y="559.4" width="4.8" height="37.6" fill="#f23645"/>
<rect x="686.73" y="559.6" width="1.25" height="37.4" fill="#089981"/>
<rect x="684.95" y="579.0" width="4.8" height="18.0" fill="#089981"/>
<rect x="693.41" y="554.4" width="1.25" height="75.6" fill="#f23645"/>
<rect x="691.63" y="579.0" width="4.8" height="23.4" fill="#f23645"/>
<rect x="700.09" y="562.0" width="1.25" height="82.6" fill="#f23645"/>
<rect x="698.31" y="602.0" width="4.8" height="20.0" fill="#f23645"/>
<rect x="706.78" y="578.4" width="1.25" height="69.6" fill="#089981"/>
<rect x="705.00" y="593.0" width="4.8" height="29.0" fill="#089981"/>
<rect x="713.46" y="592.0" width="1.25" height="79.4" fill="#f23645"/>
<rect x="711.68" y="593.0" width="4.8" height="30.6" fill="#f23645"/>
<rect x="720.14" y="612.4" width="1.25" height="83.6" fill="#f23645"/>
<rect x="718.36" y="623.6" width="4.8" height="59.8" fill="#f23645"/>
<rect x="726.82" y="667.4" width="1.25" height="81.2" fill="#f23645"/>
<rect x="725.04" y="683.4" width="4.8" height="21.0" fill="#f23645"/>
<rect x="733.50" y="694.0" width="1.25" height="29.0" fill="#089981"/>
<rect x="731.72" y="703.0" width="4.8" height="1.4" fill="#089981"/>
<rect x="740.19" y="675.0" width="1.25" height="28.0" fill="#089981"/>
<rect x="738.41" y="693.0" width="4.8" height="10.0" fill="#089981"/>
<rect x="746.87" y="635.0" width="1.25" height="69.4" fill="#089981"/>
<rect x="745.09" y="646.0" width="4.8" height="47.0" fill="#089981"/>
<rect x="753.55" y="637.4" width="1.25" height="38.0" fill="#089981"/>
<rect x="751.77" y="644.0" width="4.8" height="1.4" fill="#089981"/>
<rect x="760.23" y="616.6" width="1.25" height="48.8" fill="#089981"/>
<rect x="758.45" y="622.6" width="4.8" height="21.4" fill="#089981"/>
<rect x="766.91" y="608.4" width="1.25" height="27.0" fill="#f23645"/>
<rect x="765.13" y="622.6" width="4.8" height="4.0" fill="#f23645"/>
<rect x="773.60" y="600.0" width="1.25" height="32.4" fill="#089981"/>
<rect x="771.82" y="621.0" width="4.8" height="5.6" fill="#089981"/>
<rect x="780.28" y="614.4" width="1.25" height="27.0" fill="#f23645"/>
<rect x="778.50" y="621.0" width="4.8" height="12.6" fill="#f23645"/>
<rect x="786.96" y="614.0" width="1.25" height="23.4" fill="#089981"/>
<rect x="785.18" y="632.4" width="4.8" height="1.2" fill="#089981"/>
<rect x="793.64" y="631.0" width="1.25" height="87.4" fill="#f23645"/>
<rect x="791.86" y="633.0" width="4.8" height="60.6" fill="#f23645"/>
<rect x="800.32" y="620.0" width="1.25" height="78.4" fill="#089981"/>
<rect x="798.54" y="632.0" width="4.8" height="61.6" fill="#089981"/>
<rect x="807.01" y="564.0" width="1.25" height="70.4" fill="#089981"/>
<rect x="805.23" y="572.0" width="4.8" height="60.0" fill="#089981"/>
<rect x="813.69" y="556.0" width="1.25" height="53.0" fill="#f23645"/>
<rect x="811.91" y="572.0" width="4.8" height="17.0" fill="#f23645"/>
<rect x="820.37" y="570.0" width="1.25" height="65.6" fill="#f23645"/>
<rect x="818.59" y="589.0" width="4.8" height="35.0" fill="#f23645"/>
<rect x="827.05" y="610.0" width="1.25" height="16.4" fill="#089981"/>
<rect x="825.27" y="618.6" width="4.8" height="5.4" fill="#089981"/>
<rect x="833.73" y="584.0" width="1.25" height="74.4" fill="#089981"/>
<rect x="831.95" y="612.0" width="4.8" height="6.6" fill="#089981"/>
<rect x="840.42" y="575.0" width="1.25" height="43.0" fill="#089981"/>
<rect x="838.64" y="592.0" width="4.8" height="20.0" fill="#089981"/>
<rect x="847.10" y="507.4" width="1.25" height="92.6" fill="#089981"/>
<rect x="845.32" y="532.0" width="4.8" height="60.0" fill="#089981"/>
<rect x="853.78" y="483.0" width="1.25" height="58.0" fill="#089981"/>
<rect x="852.00" y="529.6" width="4.8" height="2.8" fill="#089981"/>
<rect x="860.46" y="529.0" width="1.25" height="56.0" fill="#f23645"/>
<rect x="858.68" y="529.6" width="4.8" height="27.8" fill="#f23645"/>
<rect x="867.14" y="548.0" width="1.25" height="68.4" fill="#f23645"/>
<rect x="865.36" y="557.4" width="4.8" height="47.0" fill="#f23645"/>
<rect x="873.83" y="588.0" width="1.25" height="18.0" fill="#089981"/>
<rect x="872.05" y="594.4" width="4.8" height="10.0" fill="#089981"/>
<rect x="880.51" y="590.0" width="1.25" height="32.6" fill="#f23645"/>
<rect x="878.73" y="594.4" width="4.8" height="17.0" fill="#f23645"/>
<rect x="887.19" y="575.6" width="1.25" height="88.0" fill="#f23645"/>
<rect x="885.41" y="611.0" width="4.8" height="31.0" fill="#f23645"/>
<rect x="893.87" y="636.6" width="1.25" height="31.4" fill="#f23645"/>
<rect x="892.09" y="641.0" width="4.8" height="1.4" fill="#f23645"/>
<rect x="900.55" y="622.0" width="1.25" height="74.0" fill="#f23645"/>
<rect x="898.77" y="642.4" width="4.8" height="40.2" fill="#f23645"/>
<rect x="907.24" y="632.0" width="1.25" height="68.6" fill="#f23645"/>
<rect x="905.46" y="682.6" width="4.8" height="1.8" fill="#f23645"/>
<rect x="913.92" y="626.0" width="1.25" height="64.4" fill="#089981"/>
<rect x="912.14" y="638.0" width="4.8" height="46.4" fill="#089981"/>
<rect x="920.60" y="633.0" width="1.25" height="8.6" fill="#f23645"/>
<rect x="918.82" y="637.0" width="4.8" height="1.4" fill="#f23645"/>
<rect x="927.28" y="627.0" width="1.25" height="21.0" fill="#089981"/>
<rect x="925.50" y="630.0" width="4.8" height="8.0" fill="#089981"/>
<rect x="933.96" y="607.4" width="1.25" height="34.6" fill="#089981"/>
<rect x="932.18" y="628.6" width="4.8" height="1.4" fill="#089981"/>
<rect x="940.65" y="620.0" width="1.25" height="41.6" fill="#f23645"/>
<rect x="938.87" y="628.6" width="4.8" height="13.8" fill="#f23645"/>
<rect x="947.33" y="638.0" width="1.25" height="27.4" fill="#f23645"/>
<rect x="945.55" y="642.4" width="4.8" height="5.6" fill="#f23645"/>
<rect x="954.01" y="640.4" width="1.25" height="24.0" fill="#f23645"/>
<rect x="952.23" y="648.0" width="4.8" height="13.0" fill="#f23645"/>
<rect x="960.69" y="632.4" width="1.25" height="31.6" fill="#089981"/>
<rect x="958.91" y="653.6" width="4.8" height="7.4" fill="#089981"/>
<rect x="967.37" y="644.0" width="1.25" height="13.0" fill="#089981"/>
<rect x="965.59" y="647.4" width="4.8" height="6.2" fill="#089981"/>
<rect x="974.06" y="644.0" width="1.25" height="9.6" fill="#089981"/>
<rect x="972.28" y="646.0" width="4.8" height="1.4" fill="#089981"/>
<rect x="980.74" y="613.6" width="1.25" height="45.8" fill="#f23645"/>
<rect x="978.96" y="646.6" width="4.8" height="5.0" fill="#f23645"/>
<rect x="987.42" y="629.0" width="1.25" height="28.0" fill="#089981"/>
<rect x="985.64" y="640.4" width="4.8" height="11.2" fill="#089981"/>
<rect x="994.10" y="623.0" width="1.25" height="20.6" fill="#f23645"/>
<rect x="992.32" y="639.4" width="4.8" height="1.4" fill="#f23645"/>
<rect x="1000.78" y="628.6" width="1.25" height="12.4" fill="#089981"/>
<rect x="999.00" y="631.0" width="4.8" height="9.6" fill="#089981"/>
<rect x="1007.47" y="584.0" width="1.25" height="50.0" fill="#089981"/>
<rect x="1005.69" y="592.0" width="4.8" height="39.0" fill="#089981"/>
<rect x="1014.15" y="588.0" width="1.25" height="19.0" fill="#089981"/>
<rect x="1012.37" y="590.4" width="4.8" height="1.4" fill="#089981"/>
<rect x="1020.83" y="579.0" width="1.25" height="15.0" fill="#089981"/>
<rect x="1019.05" y="586.0" width="4.8" height="6.0" fill="#089981"/>
<rect x="1027.51" y="548.0" width="1.25" height="41.0" fill="#089981"/>
<rect x="1025.73" y="560.6" width="4.8" height="25.4" fill="#089981"/>
<rect x="1034.19" y="535.0" width="1.25" height="38.6" fill="#089981"/>
<rect x="1032.41" y="538.6" width="4.8" height="22.0" fill="#089981"/>
<rect x="1040.88" y="537.0" width="1.25" height="55.4" fill="#f23645"/>
<rect x="1039.10" y="538.6" width="4.8" height="41.0" fill="#f23645"/>
<rect x="1047.56" y="574.4" width="1.25" height="40.0" fill="#f23645"/>
<rect x="1045.78" y="580.0" width="4.8" height="18.4" fill="#f23645"/>
<rect x="1054.24" y="586.0" width="1.25" height="28.0" fill="#f23645"/>
<rect x="1052.46" y="598.4" width="4.8" height="6.0" fill="#f23645"/>
<rect x="1060.92" y="599.0" width="1.25" height="8.4" fill="#f23645"/>
<rect x="1059.14" y="603.5" width="4.8" height="1.4" fill="#f23645"/>
<rect x="1067.60" y="586.4" width="1.25" height="19.0" fill="#089981"/>
<rect x="1065.82" y="593.6" width="4.8" height="11.8" fill="#089981"/>
<rect x="1074.29" y="579.0" width="1.25" height="32.0" fill="#f23645"/>
<rect x="1072.51" y="593.6" width="4.8" height="8.4" fill="#f23645"/>
<rect x="1080.97" y="585.0" width="1.25" height="18.4" fill="#089981"/>
<rect x="1079.19" y="588.6" width="4.8" height="13.8" fill="#089981"/>
<polygon points="727,733.5 1243,600.5 1243,616 727,748.5" fill="#ee2a60" fill-opacity="0.10"/>
<line x1="653.6" y1="426.3" x2="1184" y2="579.1" stroke="#e03347" stroke-width="2.6" stroke-linecap="butt"/>
<line x1="11.5" y1="588.7" x2="1243" y2="588.7" stroke="#089981" stroke-width="1.5" stroke-dasharray="1.3 2.28"/>
</g>
<text x="12.1" y="22.9" font-size="14.8" fill="#0e0e10" stroke="#0e0e10" stroke-width="0.25" text-anchor="start" font-weight="normal" textLength="507.5" lengthAdjust="spacing">ParshwaTurakhiya28 created with TradingView.com, Jan 13, 2026 10:02 UTC</text>
<text x="21.5" y="55.7" font-size="14" fill="#131722" stroke="#131722" stroke-width="0.25" text-anchor="start" font-weight="normal" textLength="248.5" lengthAdjust="spacing">Ethereum / U.S. Dollar · 1D · Coinbase</text>
<text x="279.6" y="55.7" font-size="14" fill="#131722" stroke="#131722" stroke-width="0.25" text-anchor="start" font-weight="normal">O</text>
<text x="291.0" y="55.7" font-size="14" fill="#16a085" stroke="#16a085" stroke-width="0.25" text-anchor="start" font-weight="normal" textLength="56.0" lengthAdjust="spacing">3,091.94</text>
<text x="356.7" y="55.7" font-size="14" fill="#131722" stroke="#131722" stroke-width="0.25" text-anchor="start" font-weight="normal">H</text>
<text x="366.0" y="55.7" font-size="14" fill="#16a085" stroke="#16a085" stroke-width="0.25" text-anchor="start" font-weight="normal" textLength="54.6" lengthAdjust="spacing">3,145.19</text>
<text x="430.9" y="55.7" font-size="14" fill="#131722" stroke="#131722" stroke-width="0.25" text-anchor="start" font-weight="normal">L</text>
<text x="439.0" y="55.7" font-size="14" fill="#16a085" stroke="#16a085" stroke-width="0.25" text-anchor="start" font-weight="normal" textLength="56.4" lengthAdjust="spacing">3,087.93</text>
<text x="504.5" y="55.7" font-size="14" fill="#131722" stroke="#131722" stroke-width="0.25" text-anchor="start" font-weight="normal">C</text>
<text x="515.0" y="55.7" font-size="14" fill="#16a085" stroke="#16a085" stroke-width="0.25" text-anchor="start" font-weight="normal" textLength="54.0" lengthAdjust="spacing">3,134.61</text>
<text x="578.0" y="55.7" font-size="14" fill="#16a085" stroke="#16a085" stroke-width="0.25" text-anchor="start" font-weight="normal" textLength="45.6" lengthAdjust="spacing">+42.67</text>
<text x="629.8" y="55.7" font-size="14" fill="#16a085" stroke="#16a085" stroke-width="0.25" text-anchor="start" font-weight="normal" textLength="58.2" lengthAdjust="spacing">(+1.38%)</text>
<text x="21.5" y="76.0" font-size="14" fill="#131722" stroke="#131722" stroke-width="0.25" text-anchor="start" font-weight="normal" textLength="137.1" lengthAdjust="spacing">SAR (0.02, 0.02, 0.2)</text>
<text x="168.0" y="76.0" font-size="14" fill="#3d6fe0" stroke="#3d6fe0" stroke-width="0.25" text-anchor="start" font-weight="normal" textLength="56.5" lengthAdjust="spacing">3,302.81</text>
<text x="21.5" y="96.1" font-size="14" fill="#131722" stroke="#131722" stroke-width="0.25" text-anchor="start" font-weight="normal" textLength="132.3" lengthAdjust="spacing">EMA 20/50/100/200</text>
<text x="162.6" y="96.1" font-size="14" fill="#dd2c2c" stroke="#dd2c2c" stroke-width="0.25" text-anchor="start" font-weight="normal" textLength="56.4" lengthAdjust="spacing">3,087.65</text>
<text x="228.5" y="96.1" font-size="14" fill="#e8923a" stroke="#e8923a" stroke-width="0.25" text-anchor="start" font-weight="normal" textLength="55.9" lengthAdjust="spacing">3,123.33</text>
<text x="293.5" y="96.1" font-size="14" fill="#2fe3ee" stroke="#2fe3ee" stroke-width="0.25" text-anchor="start" font-weight="normal" textLength="58.5" lengthAdjust="spacing">3,282.69</text>
<text x="362.0" y="96.1" font-size="14" fill="#1c16b8" stroke="#1c16b8" stroke-width="0.25" text-anchor="start" font-weight="normal" textLength="56.5" lengthAdjust="spacing">3,337.06</text>
<text x="1254.0" y="75.9" font-size="14.8" fill="#131722" stroke="#131722" stroke-width="0.25" text-anchor="start" font-weight="normal" textLength="60.5" lengthAdjust="spacing">4,800.00</text>
<text x="1254.0" y="138.1" font-size="14.8" fill="#131722" stroke="#131722" stroke-width="0.25" text-anchor="start" font-weight="normal" textLength="60.5" lengthAdjust="spacing">4,600.00</text>
<text x="1254.0" y="200.2" font-size="14.8" fill="#131722" stroke="#131722" stroke-width="0.25" text-anchor="start" font-weight="normal" textLength="60.5" lengthAdjust="spacing">4,400.00</text>
<text x="1254.0" y="262.4" font-size="14.8" fill="#131722" stroke="#131722" stroke-width="0.25" text-anchor="start" font-weight="normal" textLength="60.5" lengthAdjust="spacing">4,200.00</text>
<text x="1254.0" y="324.5" font-size="14.8" fill="#131722" stroke="#131722" stroke-width="0.25" text-anchor="start" font-weight="normal" textLength="60.5" lengthAdjust="spacing">4,000.00</text>
<text x="1254.0" y="386.7" font-size="14.8" fill="#131722" stroke="#131722" stroke-width="0.25" text-anchor="start" font-weight="normal" textLength="60.5" lengthAdjust="spacing">3,800.00</text>
<text x="1254.0" y="448.9" font-size="14.8" fill="#131722" stroke="#131722" stroke-width="0.25" text-anchor="start" font-weight="normal" textLength="60.5" lengthAdjust="spacing">3,600.00</text>
<text x="1254.0" y="573.2" font-size="14.8" fill="#131722" stroke="#131722" stroke-width="0.25" text-anchor="start" font-weight="normal" textLength="60.5" lengthAdjust="spacing">3,200.00</text>
<text x="1254.0" y="697.5" font-size="14.8" fill="#131722" stroke="#131722" stroke-width="0.25" text-anchor="start" font-weight="normal" textLength="60.5" lengthAdjust="spacing">2,800.00</text>
<text x="1254.0" y="759.7" font-size="14.8" fill="#131722" stroke="#131722" stroke-width="0.25" text-anchor="start" font-weight="normal" textLength="60.5" lengthAdjust="spacing">2,600.00</text>
<rect x="1243.5" y="492.9" width="78" height="19.899999999999977" rx="2" fill="#0000e6"/>
<text x="1254.0" y="507.6" font-size="14.8" fill="#fff" stroke="#fff" stroke-width="0.05" text-anchor="start" font-weight="normal" textLength="60.5" lengthAdjust="spacing">3,337.06</text>
<rect x="1243.5" y="512.8" width="78" height="20.0" rx="2" fill="#2962ff"/>
<text x="1254.0" y="527.6" font-size="14.8" fill="#fff" stroke="#fff" stroke-width="0.05" text-anchor="start" font-weight="normal" textLength="60.5" lengthAdjust="spacing">3,302.81</text>
<rect x="1243.5" y="532.8" width="78" height="20.200000000000045" rx="2" fill="#00ffff"/>
<text x="1254.0" y="547.7" font-size="14.8" fill="#0c2a2e" stroke="#0c2a2e" stroke-width="0.05" text-anchor="start" font-weight="normal" textLength="60.5" lengthAdjust="spacing">3,282.69</text>
<rect x="1243.5" y="579" width="78" height="20" rx="2" fill="#089981"/>
<text x="1254.0" y="593.8" font-size="14.8" fill="#c9ece4" stroke="#c9ece4" stroke-width="0.05" text-anchor="start" font-weight="normal" textLength="60.5" lengthAdjust="spacing">13:58:00</text>
<rect x="1243.5" y="599" width="78" height="20" rx="2" fill="#ff8000"/>
<text x="1254.0" y="613.8" font-size="14.8" fill="#fff" stroke="#fff" stroke-width="0.05" text-anchor="start" font-weight="normal" textLength="60.5" lengthAdjust="spacing">3,123.33</text>
<rect x="1243.5" y="619" width="78" height="19.799999999999955" rx="2" fill="#ff0000"/>
<text x="1254.0" y="633.7" font-size="14.8" fill="#fff" stroke="#fff" stroke-width="0.05" text-anchor="start" font-weight="normal" textLength="60.5" lengthAdjust="spacing">3,087.65</text>
<path d="M1177.7 579.1h64.8v19.8h-64.8a2.5 2.5 0 0 1-2.5-2.5v-14.8a2.5 2.5 0 0 1 2.5-2.5z" fill="#089981"/>
<text x="1180.9" y="594.0" font-size="14.8" fill="#fff" stroke="#fff" stroke-width="0.05" text-anchor="start" font-weight="normal" textLength="56.1" lengthAdjust="spacing">ETHUSD</text>
<rect x="1244" y="33" width="82" height="38.2" fill="#fff"/>
<rect x="1247" y="36" width="75.6" height="29.5" rx="4.5" fill="#fff" stroke="#f3f4f6" stroke-width="1.2"/>
<text x="1258.4" y="56.4" font-size="14.2" fill="#131722" stroke="#131722" stroke-width="0.25" text-anchor="start" font-weight="normal" textLength="28.5" lengthAdjust="spacing">USD</text>
<text x="186.0" y="814.8" font-size="14.8" fill="#131722" stroke="#131722" stroke-width="0.25" text-anchor="middle" font-weight="normal">Sep</text>
<text x="386.4" y="814.8" font-size="14.8" fill="#131722" stroke="#131722" stroke-width="0.25" text-anchor="middle" font-weight="normal">Oct</text>
<text x="593.4" y="814.8" font-size="14.8" fill="#131722" stroke="#131722" stroke-width="0.25" text-anchor="middle" font-weight="normal">Nov</text>
<text x="794.0" y="814.8" font-size="14.8" fill="#131722" stroke="#131722" stroke-width="0.25" text-anchor="middle" font-weight="normal">Dec</text>
<text x="1208.7" y="814.8" font-size="14.8" fill="#131722" stroke="#131722" stroke-width="0.25" text-anchor="middle" font-weight="normal">Feb</text>
<text x="982.9" y="814.8" font-size="14.8" fill="#131722" stroke="#131722" stroke-width="0" text-anchor="start" font-weight="bold" textLength="37.1" lengthAdjust="spacing">2026</text>
<g transform="translate(13.9,848.1) scale(0.983,0.94)" fill="#131316"><path d="M14 22H7V11H0V4h14v18zM28 22h-8l7.5-18h8L28 22z"/><circle cx="20" cy="8" r="4"/></g>
<text x="57.7" y="868.8" font-size="23.9" fill="#131316" stroke="#131316" stroke-width="0.0" text-anchor="start" font-weight="bold" textLength="142.2" lengthAdjust="spacing">TradingView</text>
</svg></body></html>
